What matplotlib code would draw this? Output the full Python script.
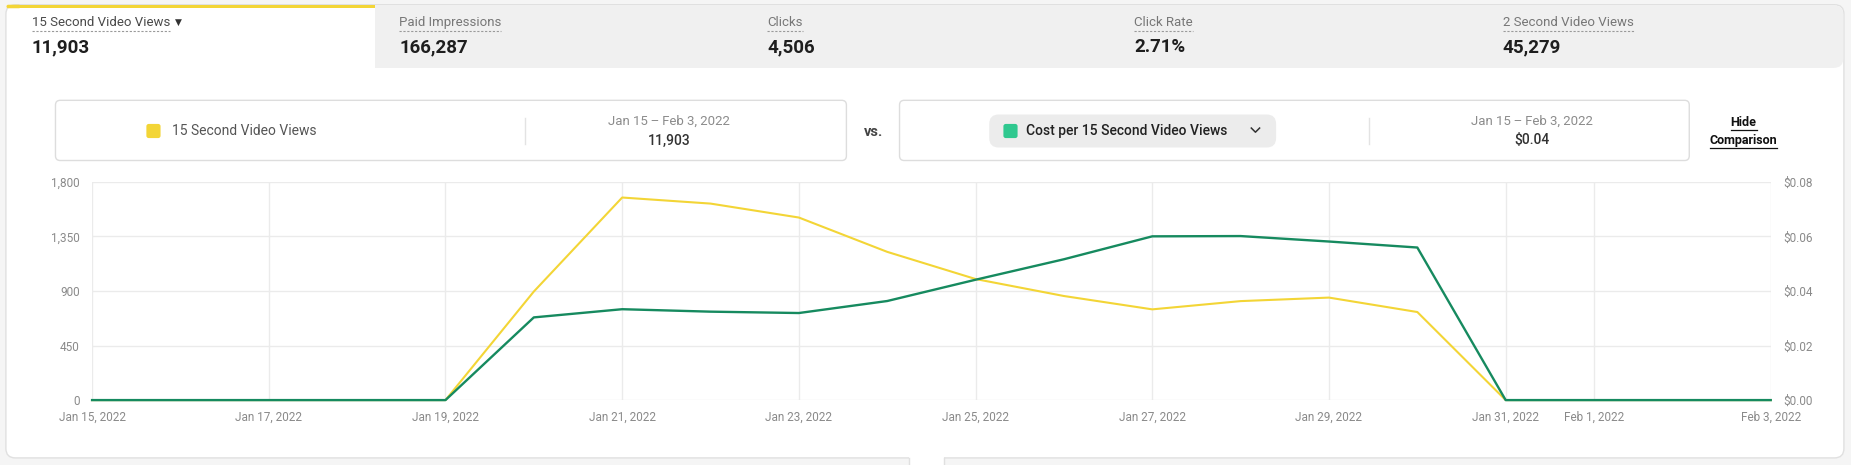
import matplotlib
matplotlib.use("Agg")
import matplotlib.pyplot as plt
import matplotlib.dates as mdates
from matplotlib.patches import FancyBboxPatch, Rectangle
import pandas as pd

# ---------------- data ----------------
dates = ["2022-01-15", "2022-01-16", "2022-01-17", "2022-01-18", "2022-01-19",
         "2022-01-20", "2022-01-21", "2022-01-22", "2022-01-23", "2022-01-24",
         "2022-01-25", "2022-01-26", "2022-01-27", "2022-01-28", "2022-01-29",
         "2022-01-30", "2022-01-31", "2022-02-01", "2022-02-02", "2022-02-03"]
views_15s = [0, 0, 0, 0, 0, 895, 1670, 1620, 1505, 1222, 998, 858, 748, 816, 845, 726,
             0, 0, 0, 0]
cost_per_15s = [0, 0, 0, 0, 0, 0.0303, 0.0333, 0.0324, 0.0319, 0.0363, 0.0441, 0.0516,
                0.0600, 0.0601, 0.0581, 0.0559, 0, 0, 0, 0]

tick_dates = ["2022-01-15", "2022-01-17", "2022-01-19", "2022-01-21", "2022-01-23",
              "2022-01-25", "2022-01-27", "2022-01-29", "2022-01-31", "2022-02-01",
              "2022-02-03"]
tick_labels = ["Jan 15, 2022", "Jan 17, 2022", "Jan 19, 2022", "Jan 21, 2022",
               "Jan 23, 2022", "Jan 25, 2022", "Jan 27, 2022", "Jan 29, 2022",
               "Jan 31, 2022", "Feb 1, 2022", "Feb 3, 2022"]
left_ticks = [0, 450, 900, 1350, 1800]
left_labels = ["0", "450", "900", "1,350", "1,800"]
right_ticks = [0, 0.02, 0.04, 0.06, 0.08]
right_labels = ["$0.00", "$0.02", "$0.04", "$0.06", "$0.08"]

tab_labels = ["15 Second Video Views", "Paid Impressions", "Clicks", "Click Rate",
              "2 Second Video Views"]
tab_values = ["11,903", "166,287", "4,506", "2.71%", "45,279"]

primary_name = "15 Second Video Views"
secondary_name = "Cost per 15 Second Video Views"
date_range = "Jan 15\u2009\u2013\u2009Feb 3, 2022"
primary_total = "11,903"
secondary_total = "$0.04"

# ---------------- style ----------------
YELLOW = "#f3d536"
GREEN = "#168a5f"
GREEN_SQ = "#2fc88f"
GRID = "#ebebeb"
TICK = "#8a8a8a"
NARROW = ["Liberation Sans Narrow", "Roboto", "DejaVu Sans"]
REG = ["Roboto", "DejaVu Sans"]

W, H = 1568, 394
fig = plt.figure(figsize=(18.51, 4.65), dpi=100)
fig.patch.set_facecolor("#f5f5f5")

bg = fig.add_axes([0, 0, 1, 1], zorder=0)
bg.set_xlim(0, W)
bg.set_ylim(H, 0)
bg.axis("off")

# card
bg.add_patch(FancyBboxPatch((5, 4), 1557, 384, boxstyle="round,pad=0,rounding_size=8",
                            fc="white", ec="#e0e0e0", lw=1))
bg.add_patch(Rectangle((770, 385), 30, 12, fc="white", ec="none"))
bg.plot([770, 770], [388, 394], color="#e0e0e0", lw=1)
bg.plot([800, 800], [388, 394], color="#e0e0e0", lw=1)
# tabs
bg.add_patch(Rectangle((318, 4.5), 1236, 53, fc="#f0f0f0", ec="none"))
bg.add_patch(FancyBboxPatch((1540, 4.5), 21.5, 53, boxstyle="round,pad=0,rounding_size=8",
                            fc="#f0f0f0", ec="none"))
bg.add_patch(Rectangle((13, 4), 305, 3, fc=YELLOW, ec="none"))
bg.add_patch(FancyBboxPatch((5.5, 4), 12, 3, boxstyle="round,pad=0,rounding_size=1.5",
                            fc=YELLOW, ec="none"))

tab_x = [27, 338, 650, 961, 1273]
label_texts = []
for i, (x, lab, val) in enumerate(zip(tab_x, tab_labels, tab_values)):
    t = bg.text(x, 19, lab, fontsize=9.5, color="#4a4a4a" if i == 0 else "#777777",
                family=NARROW, va="center", ha="left")
    label_texts.append(t)
    bg.text(x, 40, val, fontsize=13.5, color="#1e1e1e", weight="bold",
            family=NARROW, va="center", ha="left")
bg.text(148, 19, "▼", fontsize=6.5, color="#333333", va="center", ha="left",
        family=["DejaVu Sans"])

fig.canvas.draw()
inv = bg.transData.inverted()
for t in label_texts:
    bb = t.get_window_extent()
    (x0, _), (x1, _) = inv.transform([(bb.x0, bb.y0), (bb.x1, bb.y1)])
    bg.plot([x0, x1], [26.5, 26.5], color="#9a9a9a", lw=0.8, ls=(0, (2, 1.5)))

# comparison boxes
bg.add_patch(FancyBboxPatch((47, 85), 670, 51, boxstyle="round,pad=0,rounding_size=4",
                            fc="white", ec="#dddddd", lw=1))
bg.add_patch(FancyBboxPatch((762, 85), 669, 51, boxstyle="round,pad=0,rounding_size=4",
                            fc="white", ec="#dddddd", lw=1))
bg.add_patch(FancyBboxPatch((124, 105), 12, 12, boxstyle="round,pad=0,rounding_size=2",
                            fc=YELLOW, ec="none"))
bg.text(146, 111, primary_name, fontsize=10, color="#555555", family=REG,
        va="center", ha="left")
bg.plot([445, 445], [100, 122], color="#e3e3e3", lw=1)
bg.text(567, 103, date_range, fontsize=9.5, color="#8c8c8c", family=REG + ["DejaVu Sans"],
        va="center", ha="center")
bg.text(567, 119, primary_total, fontsize=10, color="#333333", family=REG,
        weight="medium", va="center", ha="center")
bg.text(740, 112, "vs.", fontsize=10.5, color="#444444", family=REG, weight="bold",
        va="center", ha="center")

bg.add_patch(FancyBboxPatch((838, 97), 243, 28, boxstyle="round,pad=0,rounding_size=8",
                            fc="#ececec", ec="none"))
bg.add_patch(FancyBboxPatch((850, 105), 12, 12, boxstyle="round,pad=0,rounding_size=2",
                            fc=GREEN_SQ, ec="none"))
bg.text(869, 111, secondary_name, fontsize=10, color="#222222", family=REG,
        weight="medium", va="center", ha="left")
bg.plot([1060, 1063.5, 1067], [108.5, 112, 108.5], color="#333333", lw=1.1)
bg.plot([1160, 1160], [100, 122], color="#e3e3e3", lw=1)
bg.text(1298, 103, date_range, fontsize=9.5, color="#8c8c8c", family=REG + ["DejaVu Sans"],
        va="center", ha="center")
bg.text(1298, 119, secondary_total, fontsize=10, color="#333333", family=REG,
        weight="medium", va="center", ha="center")

for y, s in [(104, "Hide"), (119, "Comparison")]:
    t = bg.text(1477, y, s, fontsize=9, color="#111111", family=REG, weight="bold",
                va="center", ha="center")
    fig.canvas.draw()
    bb = t.get_window_extent()
    (x0, _), (x1, _) = inv.transform([(bb.x0, bb.y0), (bb.x1, bb.y1)])
    bg.plot([x0, x1], [y + 6.5, y + 6.5], color="#111111", lw=0.9)

# ---------------- plot ----------------
x = pd.to_datetime(dates)
tx = pd.to_datetime(tick_dates)

ax = fig.add_axes([78 / W, 1 - 339 / H, (1500 - 78) / W, (339 - 154) / H], zorder=2)
ax.set_facecolor("none")
ax.plot(x, views_15s, color=YELLOW, lw=1.5, clip_on=False, zorder=3,
        solid_joinstyle="round")
ax.set_xlim(x[0], x[-1])
ax.set_ylim(0, 1800)
ax.set_yticks(left_ticks)
ax.set_yticklabels(left_labels)
ax.set_xticks(tx)
ax.set_xticklabels(tick_labels)
ax.grid(True, color=GRID, lw=1)
ax.set_axisbelow(True)
for s in ax.spines.values():
    s.set_visible(False)
ax.tick_params(axis="both", length=0, labelsize=8.5, labelcolor=TICK)
ax.tick_params(axis="y", pad=9)
ax.tick_params(axis="x", pad=8)
for lab in ax.get_xticklabels() + ax.get_yticklabels():
    lab.set_family(NARROW)

ax2 = ax.twinx()
ax2.plot(x, cost_per_15s, color=GREEN, lw=1.7, clip_on=False, zorder=4,
         solid_joinstyle="round")
ax2.set_ylim(0, 0.08)
ax2.set_yticks(right_ticks)
ax2.set_yticklabels(right_labels)
for s in ax2.spines.values():
    s.set_visible(False)
ax2.tick_params(axis="y", length=0, labelsize=8.5, labelcolor=TICK, pad=9)
for lab in ax2.get_yticklabels():
    lab.set_family(NARROW)

fig.savefig("out.png", dpi=100, facecolor=fig.get_facecolor())
